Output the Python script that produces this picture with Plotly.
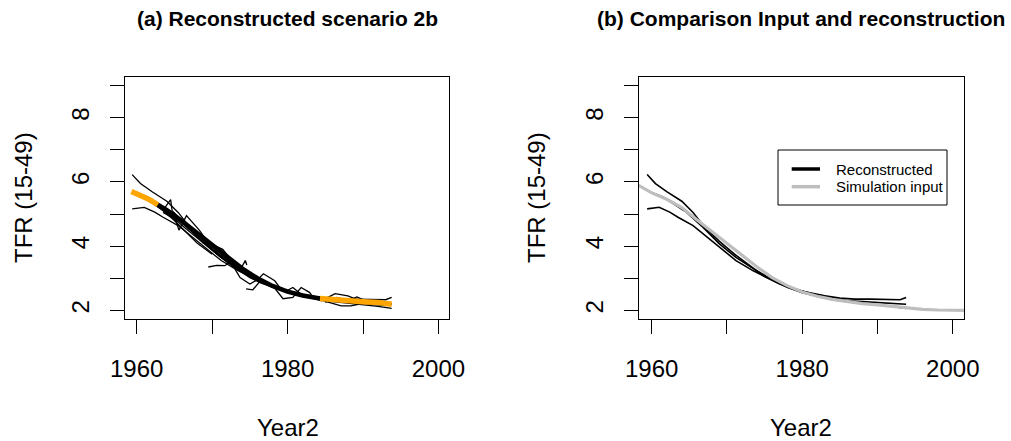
import plotly.graph_objects as go

# ---- data ---------------------------------------------------------------
# Simulation input TFR
input_years = [1958, 1960, 1962, 1964, 1966, 1968, 1970, 1972, 1974, 1976, 1978,
               1980, 1982, 1984, 1986, 1988, 1990, 1992, 1994, 1996, 1998, 2000, 2002]
input_tfr = [5.93, 5.66, 5.46, 5.20, 4.82, 4.45, 4.08, 3.70, 3.35, 3.02, 2.77,
             2.57, 2.44, 2.34, 2.27, 2.21, 2.17, 2.12, 2.06, 2.03, 2.01, 2.00, 2.00]

# Reconstructed series (full span)
recon_upper_years = [1959.4, 1960.5, 1962.0, 1964.0, 1965.5, 1967.0, 1969.0, 1971.0, 1973.0, 1975.0,
                     1977.0, 1979.0, 1981.0, 1983.0, 1985.0, 1987.0, 1989.0, 1991.0, 1993.0, 1993.8]
recon_upper_tfr = [6.23, 5.95, 5.70, 5.40, 5.05, 4.60, 4.15, 3.75, 3.40, 3.05,
                   2.82, 2.65, 2.55, 2.45, 2.38, 2.35, 2.35, 2.33, 2.33, 2.40]

recon_mid_years = [1959.4, 1961.5, 1964.6, 1966.8, 1969.0, 1971.2, 1973.5, 1975.7, 1978.0,
                   1980.0, 1982.0, 1984.0, 1986.0, 1988.0, 1990.0, 1992.0, 1993.8]
recon_mid_tfr = [5.73, 5.53, 5.06, 4.59, 4.07, 3.65, 3.30, 3.00, 2.75,
                 2.60, 2.48, 2.38, 2.30, 2.27, 2.25, 2.22, 2.19]

recon_lower_years = [1959.4, 1961.0, 1962.4, 1963.5, 1965.5, 1967.7, 1969.0, 1971.2, 1973.5, 1975.7,
                     1978.0, 1980.0, 1982.0, 1984.0, 1986.0, 1988.0, 1990.0, 1992.0, 1993.8]
recon_lower_tfr = [5.16, 5.21, 5.06, 4.90, 4.64, 4.22, 3.96, 3.55, 3.23, 2.98,
                   2.72, 2.55, 2.43, 2.33, 2.27, 2.22, 2.18, 2.12, 2.06]

# Short reconstruction segments (scenario 2b)
seg1_years = [1962.5, 1963.6, 1964.5, 1964.7, 1965.8, 1967.0]
seg1_tfr = [5.32, 5.15, 5.45, 5.10, 4.85, 4.60]
seg2_years = [1963.0, 1964.2, 1965.2, 1965.6, 1966.6, 1968.3, 1969.5]
seg2_tfr = [5.20, 5.00, 4.80, 4.50, 4.95, 4.50, 4.10]
seg3_years = [1966.0, 1967.5, 1968.8, 1970.5, 1971.4, 1972.1, 1973.5]
seg3_tfr = [4.75, 4.45, 4.10, 4.00, 3.90, 3.70, 3.35]
seg4_years = [1969.5, 1970.6, 1971.7, 1972.6, 1973.8, 1974.4, 1974.6]
seg4_tfr = [3.35, 3.40, 3.39, 3.55, 3.30, 3.55, 3.41]
seg5_years = [1972.0, 1973.0, 1973.7, 1975.0, 1976.0, 1976.8, 1978.3, 1979.0]
seg5_tfr = [3.60, 3.30, 3.02, 2.82, 2.95, 3.14, 2.92, 2.70]
seg6_years = [1974.5, 1975.4, 1976.5, 1978.0, 1979.4, 1980.7, 1981.8, 1982.9, 1983.4]
seg6_tfr = [2.67, 2.64, 2.95, 2.78, 2.36, 2.40, 2.71, 2.56, 2.40]
seg7_years = [1978.5, 1980.0, 1980.7, 1981.8, 1983.0, 1984.5, 1986.3, 1988.0, 1989.5]
seg7_tfr = [2.70, 2.62, 2.71, 2.50, 2.45, 2.30, 2.52, 2.45, 2.30]
seg8_years = [1984.0, 1985.5, 1987.1, 1988.4, 1990.0, 1991.5, 1993.0]
seg8_tfr = [2.35, 2.25, 2.14, 2.14, 2.22, 2.18, 2.15]
seg9_years = [1985.0, 1986.5, 1988.0, 1989.2, 1990.5, 1992.0, 1993.8]
seg9_tfr = [2.25, 2.40, 2.30, 2.42, 2.28, 2.25, 2.20]
seg10_years = [1960.5, 1962.0, 1963.5, 1965.0, 1966.5, 1968.0, 1970.0]
seg10_tfr = [5.55, 5.35, 5.10, 4.80, 4.45, 4.10, 3.75]
seg11_years = [1967.0, 1968.5, 1970.0, 1971.5, 1973.0, 1974.5, 1976.0, 1977.5, 1979.0, 1980.5]
seg11_tfr = [4.55, 4.25, 3.90, 3.62, 3.35, 3.10, 2.92, 2.80, 2.66, 2.55]
seg12_years = [1962.8, 1964.5, 1966.0, 1967.5, 1969.0, 1970.5, 1972.0, 1973.5, 1975.0, 1976.5, 1978.0]
seg12_tfr = [5.25, 5.00, 4.72, 4.40, 4.08, 3.78, 3.50, 3.25, 3.02, 2.85, 2.72]
seg13_years = [1975.0, 1976.5, 1978.0, 1979.5, 1981.0, 1982.5, 1984.0, 1985.5]
seg13_tfr = [3.08, 2.88, 2.72, 2.60, 2.50, 2.42, 2.35, 2.30]
seg14_years = [1963.5, 1965.0, 1966.5, 1968.0, 1969.5, 1971.0, 1972.5, 1974.0]
seg14_tfr = [5.05, 4.85, 4.55, 4.25, 3.95, 3.68, 3.42, 3.18]

# Mean reconstruction (thick line); highlighted outside the middle period
mean_years = [1959.3, 1960.5, 1961.7, 1962.8, 1964.0, 1966.0, 1968.0, 1970.0, 1972.0, 1974.0,
              1976.0, 1978.0, 1980.0, 1982.0, 1984.3, 1986.0, 1988.0, 1990.0, 1992.0, 1993.8]
mean_tfr = [5.70, 5.58, 5.45, 5.29, 5.12, 4.78, 4.40, 4.02, 3.65, 3.30,
            3.00, 2.76, 2.58, 2.46, 2.37, 2.33, 2.29, 2.27, 2.24, 2.19]
highlight_start = 1962.8
highlight_end = 1984.3

x_tick_vals = [1960, 1970, 1980, 1990, 2000]
x_tick_text = ["1960", "", "1980", "", "2000"]
y_tick_vals = [2, 3, 4, 5, 6, 7, 8, 9]
y_tick_text = ["2", "", "4", "", "6", "", "8", ""]

legend_labels = ["Reconstructed", "Simulation input"]

# ---- figure -------------------------------------------------------------
W, H = 1011, 441
FONT = "Liberation Sans, Arial, Helvetica, sans-serif"
ORANGE = "#FFA500"
GREY = "#BEBEBE"

fig = go.Figure()

thin_segments = [
    (recon_upper_years, recon_upper_tfr), (recon_mid_years, recon_mid_tfr),
    (recon_lower_years, recon_lower_tfr),
    (seg1_years, seg1_tfr), (seg2_years, seg2_tfr), (seg3_years, seg3_tfr),
    (seg4_years, seg4_tfr), (seg5_years, seg5_tfr), (seg6_years, seg6_tfr),
    (seg7_years, seg7_tfr), (seg8_years, seg8_tfr), (seg9_years, seg9_tfr),
    (seg10_years, seg10_tfr), (seg11_years, seg11_tfr), (seg12_years, seg12_tfr),
    (seg13_years, seg13_tfr), (seg14_years, seg14_tfr),
]
for yrs, vals in thin_segments:
    fig.add_trace(go.Scatter(x=yrs, y=vals, mode="lines", xaxis="x", yaxis="y",
                             line=dict(color="black", width=1.3), showlegend=False,
                             hoverinfo="skip"))

# thick mean line: black middle part, orange ends
mid_x = [y for y in mean_years if highlight_start <= y <= highlight_end]
mid_y = [v for y, v in zip(mean_years, mean_tfr) if highlight_start <= y <= highlight_end]
head_x = [y for y in mean_years if y <= highlight_start]
head_y = [v for y, v in zip(mean_years, mean_tfr) if y <= highlight_start]
tail_x = [y for y in mean_years if y >= highlight_end]
tail_y = [v for y, v in zip(mean_years, mean_tfr) if y >= highlight_end]
fig.add_trace(go.Scatter(x=mid_x, y=mid_y, mode="lines", xaxis="x", yaxis="y",
                         line=dict(color="black", width=4.5), showlegend=False))
for xs, ys in [(head_x, head_y), (tail_x, tail_y)]:
    fig.add_trace(go.Scatter(x=xs, y=ys, mode="lines", xaxis="x", yaxis="y",
                             line=dict(color=ORANGE, width=5.5), showlegend=False))

# right panel: reconstruction vs input
for yrs, vals in [(recon_upper_years, recon_upper_tfr), (recon_mid_years, recon_mid_tfr),
                  (recon_lower_years, recon_lower_tfr)]:
    fig.add_trace(go.Scatter(x=yrs, y=vals, mode="lines", xaxis="x2", yaxis="y2",
                             line=dict(color="black", width=1.6), showlegend=False))
fig.add_trace(go.Scatter(x=input_years, y=input_tfr, mode="lines", xaxis="x2", yaxis="y2",
                         line=dict(color=GREY, width=3.2), showlegend=False))


def px_x(p):
    return p / W


def px_y(p):
    return 1 - p / H


axis_common = dict(showline=True, linecolor="black", linewidth=1, mirror=True,
                   ticks="outside", ticklen=14, tickwidth=1, tickcolor="black",
                   showgrid=False, zeroline=False, automargin=False,
                   tickfont=dict(family=FONT, size=24, color="black"))

xaxis_common = dict(axis_common, tickmode="array", tickvals=x_tick_vals,
                    ticktext=x_tick_text, ticklabelstandoff=14)
yaxis_common = dict(axis_common, tickmode="array", tickvals=y_tick_vals,
                    ticktext=y_tick_text, range=[1.72, 9.28], tickangle=-90,
                    ticklabelstandoff=11)

y_dom = [px_y(319.3), px_y(76.7)]

fig.update_layout(
    width=W, height=H,
    margin=dict(l=0, r=0, t=0, b=0, autoexpand=False),
    paper_bgcolor="white", plot_bgcolor="white",
    font=dict(family=FONT, color="black"),
    xaxis=dict(xaxis_common, domain=[px_x(125), px_x(449)], range=[1958.45, 2001.4],
               anchor="y"),
    yaxis=dict(yaxis_common, domain=y_dom, anchor="x"),
    xaxis2=dict(xaxis_common, domain=[px_x(638.5), px_x(964.3)], range=[1958.25, 2001.53],
                anchor="y2"),
    yaxis2=dict(yaxis_common, domain=y_dom, anchor="x2"),
    showlegend=False,
)

# legend box for panel (b)
fig.add_shape(type="rect", xref="paper", yref="paper",
              x0=px_x(778), x1=px_x(947), y0=px_y(205), y1=px_y(150),
              line=dict(color="black", width=1), fillcolor="white", layer="above")
for label, color, ypx in [(legend_labels[0], "black", 169), (legend_labels[1], GREY, 186.7)]:
    fig.add_shape(type="line", xref="paper", yref="paper",
                  x0=px_x(791.7), x1=px_x(820), y0=px_y(ypx), y1=px_y(ypx),
                  line=dict(color=color, width=3.5), layer="above")
    fig.add_annotation(text=label, xref="paper", yref="paper", x=px_x(834), y=px_y(ypx),
                       xanchor="left", yanchor="middle", showarrow=False,
                       font=dict(family=FONT, size=15, color="black"))

annotations = [
    dict(text="<b>(a) Reconstructed scenario 2b</b>", x=px_x(287.5), y=px_y(19)),
    dict(text="<b>(b) Comparison Input and reconstruction</b>", x=px_x(801), y=px_y(19)),
    dict(text="Year2", x=px_x(287.5), y=px_y(427)),
    dict(text="Year2", x=px_x(801), y=px_y(427)),
    dict(text="TFR (15-49)", x=px_x(23), y=px_y(198), textangle=-90),
    dict(text="TFR (15-49)", x=px_x(536), y=px_y(198), textangle=-90),
]
for a in annotations:
    size = 21 if a["text"].startswith("<b>") else 24
    fig.add_annotation(xref="paper", yref="paper", xanchor="center", yanchor="middle",
                       showarrow=False, font=dict(family=FONT, size=size, color="black"),
                       **a)

fig.write_html("out.html")
